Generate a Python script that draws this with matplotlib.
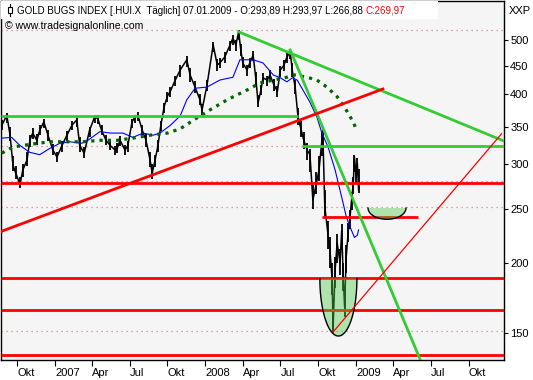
import numpy as np
import pandas as pd
import matplotlib
matplotlib.use("Agg")
import matplotlib.pyplot as plt
import matplotlib.dates as mdates
from matplotlib.patches import Polygon, Rectangle
from matplotlib.lines import Line2D

plt.rcParams['font.family'] = ['Liberation Sans', 'DejaVu Sans']
plt.rcParams['font.size'] = 8

# --- price (HUI, daily bars) ---
price_dates = ['2006-08-25','2006-09-06','2006-09-14','2006-09-21','2006-09-28','2006-10-08','2006-10-15',
               '2006-10-25','2006-11-01','2006-11-08','2006-11-18','2006-11-25','2006-12-05','2006-12-15',
               '2006-12-27','2007-01-06','2007-01-18','2007-01-30','2007-02-11','2007-02-23','2007-03-02',
               '2007-03-13','2007-03-26','2007-04-07','2007-04-15','2007-04-24','2007-05-05','2007-05-15',
               '2007-05-27','2007-06-01','2007-06-08','2007-06-20','2007-06-27','2007-07-07','2007-07-14',
               '2007-07-21','2007-08-01','2007-08-10','2007-08-20','2007-08-25','2007-09-01','2007-09-08',
               '2007-09-15','2007-09-23','2007-10-01','2007-10-08','2007-10-20','2007-11-01','2007-11-17',
               '2007-11-25','2007-12-07','2007-12-19','2007-12-24','2008-01-05','2008-01-20','2008-01-30',
               '2008-02-05','2008-02-17','2008-03-01','2008-03-08','2008-03-15','2008-03-22','2008-03-27',
               '2008-04-01','2008-04-11','2008-04-18','2008-04-26','2008-05-03','2008-05-08','2008-05-15',
               '2008-05-20','2008-05-30','2008-06-06','2008-06-16','2008-06-24','2008-07-01','2008-07-10',
               '2008-07-17','2008-07-25','2008-07-30','2008-08-06','2008-08-13','2008-08-20','2008-08-27',
               '2008-09-04','2008-09-11','2008-09-18','2008-09-26','2008-10-03','2008-10-10','2008-10-12',
               '2008-10-17','2008-10-25','2008-10-30','2008-11-04','2008-11-06','2008-11-11','2008-11-16',
               '2008-11-23','2008-11-27','2008-12-01','2008-12-04','2008-12-08','2008-12-13','2008-12-17',
               '2008-12-21','2008-12-25','2008-12-28','2009-01-01','2009-01-04','2009-01-07']
price = [352, 367, 338, 299, 289, 276, 293,
         305, 331, 341, 331, 345, 357, 338,
         318, 309, 324, 338, 352, 360, 324,
         314, 345, 364, 362, 345, 331, 324,
         318, 320, 331, 318, 324, 357, 364,
         367, 345, 331, 305, 289, 305, 324,
         352, 380, 397, 405, 424, 442, 461,
         433, 412, 391, 375, 415, 490, 451,
         455, 466, 490, 504, 490, 517, 480,
         455, 442, 455, 470, 424, 386, 407,
         428, 424, 433, 415, 405, 442, 451,
         466, 476, 442, 412, 364, 347, 331,
         318, 312, 259, 276, 293, 331, 345,
         252, 224, 208, 186, 152, 194, 217,
         200, 228, 187, 167, 205, 228, 240,
         259, 276, 309, 285, 301, 270]
price_high = [360, 370, 350, 310, 298, 285, 300,
              315, 338, 348, 340, 352, 362, 346,
              326, 316, 330, 344, 358, 366, 335,
              322, 350, 368, 367, 352, 338, 330,
              324, 327, 337, 325, 330, 362, 368,
              372, 352, 340, 316, 300, 312, 332,
              358, 386, 404, 412, 432, 452, 468,
              445, 422, 400, 385, 425, 496, 462,
              465, 475, 498, 510, 500, 520, 492,
              466, 452, 464, 478, 438, 398, 416,
              436, 432, 442, 426, 414, 450, 460,
              474, 482, 455, 425, 378, 358, 342,
              328, 320, 275, 290, 310, 342, 350,
              270, 238, 222, 200, 170, 205, 225,
              212, 235, 200, 180, 215, 236, 248,
              268, 285, 312, 298, 308, 294]
price_low = [345, 355, 330, 292, 282, 272, 285,
             298, 322, 333, 325, 338, 348, 330,
             312, 303, 316, 330, 345, 350, 316,
             308, 336, 355, 354, 338, 325, 318,
             312, 314, 324, 312, 316, 348, 356,
             358, 336, 322, 296, 282, 296, 316,
             344, 370, 388, 396, 414, 430, 448,
             420, 402, 382, 368, 405, 475, 440,
             445, 455, 478, 490, 478, 500, 468,
             445, 432, 445, 458, 412, 380, 398,
             418, 414, 422, 405, 396, 430, 440,
             455, 462, 430, 400, 352, 336, 320,
             305, 290, 250, 265, 280, 310, 320,
             240, 212, 196, 175, 150, 180, 200,
             190, 215, 178, 160, 192, 218, 230,
             248, 265, 290, 276, 290, 267]

# short moving average (blue)
ma_fast_dates = ['2006-08-25','2006-09-18','2006-10-08','2006-11-01','2006-11-25','2006-12-19','2007-01-13',
                 '2007-02-06','2007-03-07','2007-03-22','2007-04-20','2007-05-15','2007-06-15','2007-07-09',
                 '2007-08-03','2007-08-27','2007-09-13','2007-10-08','2007-11-01','2007-11-17','2007-12-07',
                 '2008-01-05','2008-02-05','2008-03-08','2008-03-25','2008-04-26','2008-05-20','2008-06-14',
                 '2008-07-01','2008-07-17','2008-07-30','2008-08-11','2008-08-25','2008-09-11','2008-09-28',
                 '2008-10-10','2008-10-25','2008-11-11','2008-11-27','2008-12-08','2008-12-17','2008-12-28',
                 '2009-01-04','2009-01-07']
ma_fast = [334, 335, 324, 315, 312, 320, 327,
           329, 327, 331, 343, 341, 341, 335,
           341, 338, 341, 352, 366, 391, 410,
           412, 424, 429, 461, 461, 455, 433,
           428, 421, 428, 424, 407, 387, 364,
           341, 322, 293, 262, 242, 232, 222,
           224, 229]

# long moving average (dark green dotted)
ma_slow_dates = ['2006-08-25','2006-09-21','2006-10-15','2006-11-08','2006-12-19','2007-01-30','2007-03-09',
                 '2007-04-20','2007-06-01','2007-07-09','2007-08-20','2007-10-01','2007-11-01','2007-12-04',
                 '2008-01-12','2008-02-23','2008-04-11','2008-05-13','2008-06-14','2008-07-17','2008-08-06',
                 '2008-09-04','2008-09-28','2008-10-22','2008-11-16','2008-12-08','2008-12-22','2009-01-03']
ma_slow = [314, 322, 324, 326, 329, 329, 329,
           331, 331, 334, 338, 341, 347, 360,
           375, 391, 407, 419, 424, 429, 433,
           429, 424, 412, 396, 375, 360, 345]

# horizontal support / resistance lines: (level, start, end)
red_levels = [277.5, 241.7, 187.5, 164.7, 136.8]
red_starts = [None, '2008-10-10', None, None, None]
red_ends = [None, '2009-05-31', None, None, None]
green_levels = [366.2, 323.7]
green_starts = [None, '2008-08-23']
green_ends = ['2008-08-13', None]
dotted_levels = [521, 324, 279.5, 252, 151]

# trend lines: (date0, value0, date1, value1)
green_trends = [('2008-03-22', 517, '2009-12-26', 330),
                ('2008-07-25', 480, '2009-06-10', 132)]
red_trend = ('2006-08-23', 227.5, '2009-03-07', 408.8)
red_thin = ('2008-11-06', 150.4, '2009-12-20', 340)

# bowls: center date, half width (days), top value, bottom value
bowl_centers = ['2008-11-19', '2009-03-17']
bowl_halfwidths = [45, 46]
bowl_tops = [187.5, 250.5]
bowl_bottoms = [148.0, 239.2]

xticks = ['2006-10-01','2007-01-01','2007-04-01','2007-07-01','2007-10-01','2008-01-01','2008-04-01',
          '2008-07-01','2008-10-01','2009-01-01','2009-04-01','2009-07-01','2009-10-01']
xtick_labels = ['Okt','2007','Apr','Jul','Okt','2008','Apr','Jul','Okt','2009','Apr','Jul','Okt']
yticks = [150, 200, 250, 300, 350, 400, 450, 500]

W, H = 533, 380
fig = plt.figure(figsize=(W / 100, H / 100), dpi=100)
fig.patch.set_facecolor('white')
ax = fig.add_axes([1 / W, 1 - 360 / H, 503 / W, 359 / H])
ax.set_facecolor('#f5f5f5')

d = lambda s: mdates.date2num(pd.Timestamp(s))
x0, x1 = d('2006-08-23'), d('2009-12-26')

ax.set_yscale('log')
ax.set_xlim(x0, x1)
ax.set_ylim(134.1, 587.0)

for lv in dotted_levels:
    ax.axhline(lv, color='#e08080', lw=0.9, ls=(0, (1, 3)), zorder=1)

pdates = [d(s) for s in price_dates]
ax.vlines(pdates, price_low, price_high, color='black', lw=1.3, zorder=3)
ax.plot(pdates, price, color='black', lw=1.1, zorder=3)
ax.plot([d(s) for s in ma_fast_dates], ma_fast, color='#0000ff', lw=0.8, zorder=4)
ax.plot([d(s) for s in ma_slow_dates], ma_slow, color='#006400', lw=2.3,
        ls=(0, (1.0, 1.6)), zorder=4)

for lv, s0, s1 in zip(red_levels, red_starts, red_ends):
    a = d(s0) if s0 else x0
    b = d(s1) if s1 else x1
    ax.plot([a, b], [lv, lv], color='#ff0000', lw=2.0, zorder=5, solid_capstyle='butt')
for lv, s0, s1 in zip(green_levels, green_starts, green_ends):
    a = d(s0) if s0 else x0
    b = d(s1) if s1 else x1
    ax.plot([a, b], [lv, lv], color='#33cc33', lw=2.0, zorder=5, solid_capstyle='butt')

for t in green_trends:
    ax.plot([d(t[0]), d(t[2])], [t[1], t[3]], color='#33cc33', lw=2.0, zorder=5)
ax.plot([d(red_trend[0]), d(red_trend[2])], [red_trend[1], red_trend[3]],
        color='#ff0000', lw=2.0, zorder=5)

# bowls drawn as half ellipses in screen space
tt = np.linspace(0, np.pi, 60)
for c, hw, top, bot in zip(bowl_centers, bowl_halfwidths, bowl_tops, bowl_bottoms):
    bx = d(c) + hw * np.cos(tt)
    by = np.exp(np.log(top) - (np.log(top) - np.log(bot)) * np.sin(tt))
    ax.add_patch(Polygon(np.column_stack([bx, by]), closed=True, facecolor=(0.3, 0.8, 0.3),
                         alpha=0.42, edgecolor='none', zorder=6))
    ax.plot(bx, by, color='black', lw=1.0, zorder=6)

ax.plot([d(red_thin[0]), d(red_thin[2])], [red_thin[1], red_thin[3]], color='#ff0000',
        lw=0.9, zorder=7)

# axes styling
ax.yaxis.tick_right()
ax.set_yticks(yticks)
ax.set_yticklabels([str(v) for v in yticks])
ax.yaxis.set_minor_locator(matplotlib.ticker.NullLocator())
ax.tick_params(axis='y', which='major', length=3, width=0.8, pad=1.5, labelsize=8)
ax.set_xticks([d(s) for s in xticks])
ax.set_xticklabels(xtick_labels)
ax.tick_params(axis='x', length=4, width=0.8, pad=1.5, labelsize=8)
for lab in ax.get_xticklabels():
    lab.set_ha('left')
for sp in ax.spines.values():
    sp.set_linewidth(1.0)
    sp.set_color('black')

# header
fig.patches.append(Rectangle((1 / W, 1 - 19 / H), 437 / W, 18 / H, transform=fig.transFigure,
                             facecolor='white', edgecolor='none', zorder=10))
fig.lines.append(Line2D([9.5 / W, 9.5 / W], [1 - 4 / H, 1 - 16 / H], transform=fig.transFigure,
                        color='black', lw=0.8, zorder=11))
fig.patches.append(Rectangle((7.5 / W, 1 - 12.5 / H), 4 / W, 5 / H, transform=fig.transFigure,
                             facecolor='white', edgecolor='black', lw=0.8, zorder=12))
hdr = fig.text(17 / W, 1 - 10.5 / H,
               'GOLD BUGS INDEX [.HUI.X  T\u00e4glich] 07.01.2009 - O:293,89 H:293,97 L:266,88 ',
               va='center', ha='left', fontsize=7.0, zorder=13)
fig.canvas.draw()
bb = hdr.get_window_extent()
fig.text(bb.x1 / W, 1 - 10.5 / H, 'C:269,97', color='#ff0000', va='center', ha='left',
         fontsize=7.0, zorder=13)
fig.text(5 / W, 1 - 26 / H, '\u00a9 www.tradesignalonline.com', va='center', ha='left', fontsize=7.6)
fig.text(509 / W, 1 - 10.5 / H, 'XXP', va='center', ha='left', fontsize=8)

fig.savefig('out.png', dpi=100)
